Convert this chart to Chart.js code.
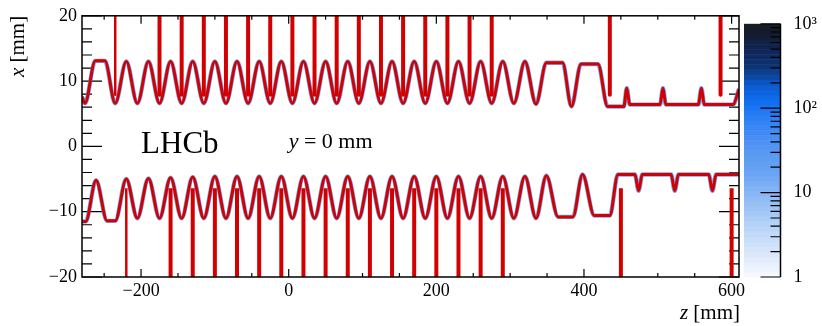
<!DOCTYPE html>
<html>
<head>
<meta charset="utf-8">
<script src="https://cdn.jsdelivr.net/npm/chart.js@4.4.0/dist/chart.umd.min.js"></script>
<style>
  html, body { margin: 0; padding: 0; background: #fff; }
  #wrap { position: relative; width: 822px; height: 326px; }
  #main { position: absolute; left: 0; top: 0; }
  #cbar { position: absolute; left: 735px; top: 0; }
</style>
</head>
<body>
<div id="wrap">
  <canvas id="main" width="822" height="326"></canvas>
  <canvas id="cbar" width="87" height="326"></canvas>
</div>
<script>
// profil haut (x > 0) : z [mm] et x [mm]
const upperZ = [-280, -276, -262, -249, -235, -220, -205, -190, -175, -160, -145, -130, -115, -100,
  -85, -70, -55, -40, -25, -10, 5, 20, 35, 50, 65, 80, 95, 110, 125, 140, 155, 170, 185, 200,
  215, 230, 245, 260, 275, 290, 305, 320, 335, 349, 371, 383, 396, 419, 432, 454, 458, 462,
  503, 507, 511, 555, 559, 563, 602, 610];
const upperX = [7.6, 6.6, 13.1, 13.1, 6.6, 13.0, 6.6, 13.0, 6.6, 13.0, 6.6, 13.0, 6.6, 13.0,
  6.6, 13.0, 6.6, 13.0, 6.6, 13.0, 6.6, 13.0, 6.6, 13.0, 6.6, 13.0, 6.6, 13.0, 6.6, 13.0, 6.6, 13.0, 6.6, 13.0,
  6.6, 13.0, 6.6, 13.0, 6.6, 13.0, 6.6, 13.0, 6.5, 12.8, 12.8, 6.1, 12.6, 12.6, 6.1, 6.1, 8.9, 6.4,
  6.4, 8.9, 6.4, 6.4, 8.9, 6.4, 6.4, 8.8];

// profil bas (x < 0)
const lowerZ = [-280, -275, -261, -246, -235, -220, -205, -190, -175, -160, -145, -130, -115, -100,
  -85, -70, -55, -40, -25, -10, 5, 20, 35, 50, 65, 80, 95, 110, 125, 140, 155, 170, 185, 200,
  215, 230, 245, 260, 275, 290, 305, 320, 335, 349, 365, 385, 398, 414, 435, 446, 469, 474, 479,
  518, 523, 528, 569, 574, 579, 610];
const lowerX = [-11.5, -11.5, -5.2, -11.4, -11.4, -5.0, -11.0, -4.9, -11.0, -4.8, -11.0, -4.7, -11.0, -4.6,
  -11.0, -4.6, -11.0, -4.6, -11.0, -4.6, -11.0, -4.6, -11.0, -4.6, -11.0, -4.6, -11.0, -4.6, -11.0, -4.6, -11.0, -4.6, -11.0, -4.6,
  -11.0, -4.6, -11.0, -4.6, -11.0, -4.6, -11.0, -4.6, -11.0, -4.5, -10.8, -10.8, -4.3, -10.6, -10.6, -4.3, -4.3, -6.8, -4.3,
  -4.3, -6.8, -4.3, -4.3, -6.8, -4.3, -4.3];

// traits verticaux rouges
const spikeUpZ = [-175, -145, -115, -85, -55, -25, 5, 35, 65, 95, 125, 155, 185, 215, 245, 275, 435, 585];
const spikeUpThinZ = [-235];
const spikeLowZ = [-160, -130, -100, -70, -40, -10, 20, 50, 80, 110, 140, 170, 200, 230, 260, 290, 450, 600];
const spikeLowThinZ = [-220];
const spikeUpEnd = 7.9;
const spikeLowEnd = -6.4;

// axes
const xTickValues = [-200, 0, 200, 400, 600];
const xTickLabels = ['\u2212200', '0', '200', '400', '600'];
const xMinorTicks = [-250, -150, -100, -50, 50, 100, 150, 250, 300, 350, 450, 500, 550];
const yTickValues = [-20, -10, 0, 10, 20];
const yTickLabels = ['\u221220', '\u221210', '0', '10', '20'];
const yMinorTicks = [-18, -16, -14, -12, -8, -6, -4, -2, 2, 4, 6, 8, 12, 14, 16, 18];

// échelle de couleur
const cbTickValues = [1, 2, 3, 4, 5, 6, 7, 8, 9, 10, 20, 30, 40, 50, 60, 70, 80, 90,
  100, 200, 300, 400, 500, 600, 700, 800, 900, 1000];
const cbTickLabels = { 1: '1', 10: '10', 100: '10\u00b2', 1000: '10\u00b3' };
const cbStops = [
  [0.00, [248, 250, 255]], [0.05, [232, 240, 252]], [0.175, [192, 216, 248]],
  [0.31, [144, 188, 245]], [0.41, [106, 165, 245]], [0.48, [90, 154, 240]],
  [0.54, [74, 144, 245]], [0.63, [44, 128, 245]], [0.69, [16, 112, 240]],
  [0.76, [12, 90, 208]], [0.79, [10, 74, 165]], [0.83, [11, 53, 117]],
  [0.90, [14, 36, 84]], [0.93, [20, 34, 66]], [0.96, [18, 26, 44]], [1.00, [26, 28, 34]]
];
const CB_LEVELS = 50;

const RED = '#d20000';
const BLUE = 'rgba(50,135,235,0.7)';
const TICK_FONT = 18;
Chart.defaults.font.family = "'Liberation Serif', 'Times New Roman', serif";
Chart.defaults.color = '#000';

const toPts = (zs, xs) => zs.map((z, i) => ({ x: z, y: xs[i] }));
function spikes(zs, from, to) {
  const out = [];
  zs.forEach(z => out.push({ x: z, y: from }, { x: z, y: to }, { x: z, y: null }));
  return out;
}

function drawRich(ctx, parts, x, y, align) {
  // parts: [[texte, italique]]
  const size = parts.size;
  let w = 0;
  parts.forEach(p => { ctx.font = (p[1] ? 'italic ' : '') + size + "px 'Liberation Serif'"; w += ctx.measureText(p[0]).width; });
  let cx = align === 'right' ? x - w : x;
  ctx.textAlign = 'left';
  ctx.textBaseline = 'alphabetic';
  parts.forEach(p => {
    ctx.font = (p[1] ? 'italic ' : '') + size + "px 'Liberation Serif'";
    ctx.fillText(p[0], cx, y);
    cx += ctx.measureText(p[0]).width;
  });
}

const frameTicks = {
  id: 'frameTicks',
  beforeDatasetsDraw(chart) {
    const { ctx, chartArea: a, scales: { x, y } } = chart;
    ctx.save();
    ctx.strokeStyle = '#000';
    ctx.lineWidth = 1.2;
    ctx.beginPath();
    const xt = (vals, len) => vals.forEach(v => {
      const p = x.getPixelForValue(v);
      ctx.moveTo(p, a.bottom); ctx.lineTo(p, a.bottom - len);
      ctx.moveTo(p, a.top); ctx.lineTo(p, a.top + len);
    });
    const yt = (vals, len) => vals.forEach(v => {
      const p = y.getPixelForValue(v);
      ctx.moveTo(a.left, p); ctx.lineTo(a.left + len, p);
      ctx.moveTo(a.right, p); ctx.lineTo(a.right - len, p);
    });
    xt(xTickValues, 8); xt(xMinorTicks, 4);
    yt(yTickValues, 20); yt(yMinorTicks, 10);
    ctx.stroke();
    ctx.restore();
  },
  afterDatasetsDraw(chart) {
    const { ctx, chartArea: a, scales: { x, y } } = chart;
    ctx.save();
    ctx.strokeStyle = '#000';
    ctx.lineWidth = 1.5;
    ctx.strokeRect(a.left, a.top, a.right - a.left, a.bottom - a.top);
    ctx.fillStyle = '#000';

    ctx.font = "31px 'Liberation Serif'";
    ctx.textAlign = 'left';
    ctx.textBaseline = 'alphabetic';
    ctx.fillText('LHCb', x.getPixelForValue(-200), y.getPixelForValue(-1.05));

    const lab = [['y', true], [' = 0 mm', false]]; lab.size = 22;
    drawRich(ctx, lab, x.getPixelForValue(0), y.getPixelForValue(-0.3), 'left');

    const zt = [['z', true], [' [mm]', false]]; zt.size = 21;
    drawRich(ctx, zt, a.right + 1, 319, 'right');

    ctx.save();
    ctx.translate(24, a.top);
    ctx.rotate(-Math.PI / 2);
    const xtit = [['x', true], [' [mm]', false]]; xtit.size = 21;
    drawRich(ctx, xtit, 0, 0, 'right');
    ctx.restore();
    ctx.restore();
  }
};

new Chart(document.getElementById('main'), {
  type: 'line',
  data: {
    datasets: [
      { data: spikes(spikeUpZ, 20, spikeUpEnd), borderColor: RED, borderWidth: 4, borderCapStyle: 'butt', spanGaps: false, order: 0 },
      { data: spikes(spikeUpThinZ, 20, spikeUpEnd), borderColor: RED, borderWidth: 2.5, borderCapStyle: 'butt', spanGaps: false, order: 0 },
      { data: spikes(spikeLowZ, -20, spikeLowEnd), borderColor: RED, borderWidth: 4, borderCapStyle: 'butt', spanGaps: false, order: 0 },
      { data: spikes(spikeLowThinZ, -20, spikeLowEnd), borderColor: RED, borderWidth: 2.5, borderCapStyle: 'butt', spanGaps: false, order: 0 },
      { data: toPts(upperZ, upperX), borderColor: RED, borderWidth: 3, cubicInterpolationMode: 'monotone', order: 1 },
      { data: toPts(lowerZ, lowerX), borderColor: RED, borderWidth: 3, cubicInterpolationMode: 'monotone', order: 1 },
      { data: toPts(upperZ, upperX), borderColor: BLUE, borderWidth: 4.4, cubicInterpolationMode: 'monotone', order: 2 },
      { data: toPts(lowerZ, lowerX), borderColor: BLUE, borderWidth: 4.4, cubicInterpolationMode: 'monotone', order: 2 }
    ]
  },
  options: {
    responsive: false,
    animation: false,
    events: [],
    layout: { padding: { top: 10, right: 83, left: 0, bottom: 0 } },
    elements: { point: { radius: 0 }, line: { borderJoinStyle: 'round' } },
    plugins: { legend: { display: false }, tooltip: { enabled: false } },
    scales: {
      x: {
        type: 'linear', min: -280, max: 610,
        afterBuildTicks: s => { s.ticks = xTickValues.map(v => ({ value: v })); },
        afterFit: s => { s.height = 49; },
        grid: { display: false, drawTicks: false },
        border: { display: false },
        ticks: {
          autoSkip: false, maxRotation: 0, padding: 3,
          font: { size: TICK_FONT }, color: '#000',
          callback: v => xTickLabels[xTickValues.indexOf(v)]
        }
      },
      y: {
        type: 'linear', min: -20, max: 20,
        afterBuildTicks: s => { s.ticks = yTickValues.map(v => ({ value: v })); },
        afterFit: s => { s.width = 82; },
        grid: { display: false, drawTicks: false },
        border: { display: false },
        ticks: {
          autoSkip: false, padding: 5,
          font: { size: TICK_FONT }, color: '#000',
          callback: v => yTickLabels[yTickValues.indexOf(v)]
        }
      }
    }
  },
  plugins: [frameTicks]
});

// barre de couleur
function cbColor(t) {
  for (let i = 1; i < cbStops.length; i++) {
    if (t <= cbStops[i][0]) {
      const [t0, c0] = cbStops[i - 1], [t1, c1] = cbStops[i];
      const f = (t - t0) / (t1 - t0);
      const c = c0.map((v, k) => Math.round(v + (c1[k] - v) * f));
      return 'rgb(' + c.join(',') + ')';
    }
  }
  return 'rgb(' + cbStops[cbStops.length - 1][1].join(',') + ')';
}

const colorBar = {
  id: 'colorBar',
  beforeDatasetsDraw(chart) {
    const { ctx, chartArea: a, scales: { y } } = chart;
    ctx.save();
    for (let i = 0; i < CB_LEVELS; i++) {
      const lo = Math.pow(10, 3 * i / CB_LEVELS);
      const hi = Math.pow(10, 3 * (i + 1) / CB_LEVELS);
      const y1 = y.getPixelForValue(hi), y2 = y.getPixelForValue(lo);
      ctx.fillStyle = cbColor((i + 0.5) / CB_LEVELS);
      ctx.fillRect(a.left, y1, a.right - a.left, y2 - y1 + 0.5);
    }
    ctx.strokeStyle = '#000';
    ctx.lineWidth = 1.2;
    ctx.beginPath();
    cbTickValues.forEach(v => {
      const p = y.getPixelForValue(v);
      const len = cbTickLabels[v] ? 20 : 10;
      ctx.moveTo(a.right, p); ctx.lineTo(a.right - len, p);
    });
    ctx.stroke();
    ctx.lineWidth = 1.5;
    ctx.beginPath();
    ctx.moveTo(a.right, a.top); ctx.lineTo(a.right, a.bottom);
    ctx.stroke();
    ctx.restore();
  }
};

new Chart(document.getElementById('cbar'), {
  type: 'scatter',
  data: { datasets: [] },
  options: {
    responsive: false,
    animation: false,
    events: [],
    layout: { padding: { top: 10, left: 9, bottom: 49, right: 0 } },
    plugins: { legend: { display: false }, tooltip: { enabled: false } },
    scales: {
      x: { type: 'linear', display: false, min: 0, max: 1 },
      y: {
        type: 'logarithmic', position: 'right', min: 1, max: 1000,
        afterBuildTicks: s => { s.ticks = cbTickValues.map(v => ({ value: v })); },
        afterFit: s => { s.width = 41.5; },
        grid: { display: false, drawTicks: false },
        border: { display: false },
        ticks: {
          autoSkip: false, padding: 13,
          font: { size: TICK_FONT }, color: '#000',
          callback: v => cbTickLabels[v] || ''
        }
      }
    }
  },
  plugins: [colorBar]
});
</script>
</body>
</html>
